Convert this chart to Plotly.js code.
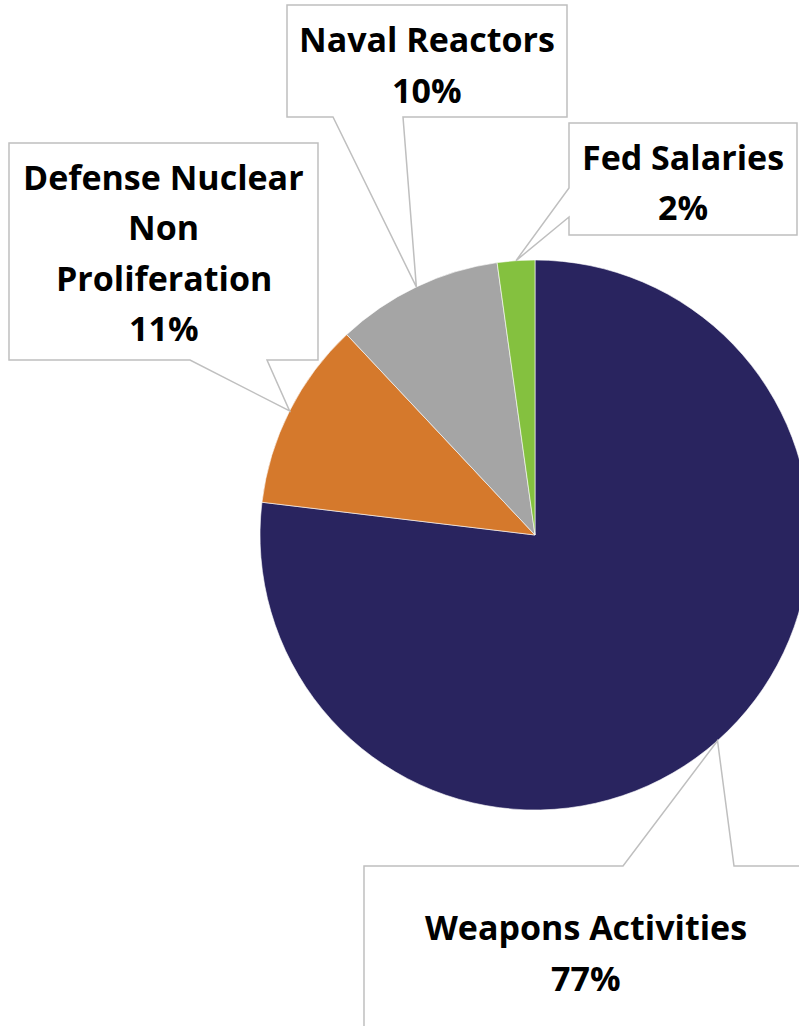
<!DOCTYPE html>
<html>
<head>
<meta charset="utf-8">
<script src="https://cdn.plot.ly/plotly-3.0.1.min.js"></script>
<style>
html,body{margin:0;padding:0;overflow:hidden;background:#fff;}
#chart{width:840px;height:1026px;}
</style>
</head>
<body>
<div id="chart"></div>
<script>
// ---- data ----
const categories = ['Weapons Activities', 'Defense Nuclear Non Proliferation', 'Naval Reactors', 'Fed Salaries'];
const labelText = ['Weapons Activities', 'Defense Nuclear<br>Non<br>Proliferation', 'Naval Reactors', 'Fed Salaries'];
const values = [76.9, 11.1, 9.8, 2.2];
const colors = ['#29245F', '#D5792C', '#A5A5A5', '#84C13F'];

// ---- layout geometry (pixels) ----
const W = 840, H = 1026;
const CX = 535, CY = 535, R = 275;
const boxes = [
  {x0: 364, y0: 866, x1: 860, y1: 1060, side: 'top',    n: [623, 734], cx: 586,   ty: 925},
  {x0: 9,   y0: 143, x1: 318, y1: 360,  side: 'bottom', n: [190, 267], cx: 163.5, ty: 174.5},
  {x0: 287, y0: 5,   x1: 567, y1: 117,  side: 'bottom', n: [333, 403], cx: 427,   ty: 37.5},
  {x0: 569, y0: 123, x1: 797, y1: 235,  side: 'left',   n: [188, 217], cx: 683,   ty: 154.5}
];
const LINE = 50.5;

const px = x => x / W;
const py = y => 1 - y / H;
const P = (x, y) => px(x).toFixed(5) + ',' + py(y).toFixed(5);

const total = values.reduce((a, b) => a + b, 0);
let cum = 0;
const shapes = [];
const annotations = [];
values.forEach((v, i) => {
  const mid = (cum + v / 2) / total * 2 * Math.PI;
  cum += v;
  const ax = CX + R * Math.sin(mid), ay = CY - R * Math.cos(mid);
  const b = boxes[i];
  let path;
  if (b.side === 'bottom') {
    path = 'M' + P(b.x0, b.y0) + ' L' + P(b.x1, b.y0) + ' L' + P(b.x1, b.y1) +
      ' L' + P(b.n[1], b.y1) + ' L' + P(ax, ay) + ' L' + P(b.n[0], b.y1) + ' L' + P(b.x0, b.y1) + ' Z';
  } else if (b.side === 'top') {
    path = 'M' + P(b.x0, b.y0) + ' L' + P(b.n[0], b.y0) + ' L' + P(ax, ay) + ' L' + P(b.n[1], b.y0) +
      ' L' + P(b.x1, b.y0) + ' L' + P(b.x1, b.y1) + ' L' + P(b.x0, b.y1) + ' Z';
  } else {
    path = 'M' + P(b.x0, b.y0) + ' L' + P(b.x1, b.y0) + ' L' + P(b.x1, b.y1) + ' L' + P(b.x0, b.y1) +
      ' L' + P(b.x0, b.n[1]) + ' L' + P(ax, ay) + ' L' + P(b.x0, b.n[0]) + ' Z';
  }
  shapes.push({type: 'path', xref: 'paper', yref: 'paper', path: path,
    fillcolor: '#FFFFFF', line: {color: '#BFBFBF', width: 1.5}, layer: 'above'});
  const lines = labelText[i].split('<br>').concat([Math.round(v / total * 100) + '%']);
  lines.forEach((t, k) => {
    annotations.push({xref: 'paper', yref: 'paper', x: px(b.cx), y: py(b.ty + k * LINE + 2),
      xanchor: 'center', yanchor: 'middle', showarrow: false, text: t,
      font: {family: 'Open Sans, sans-serif', size: 34, color: '#000000', weight: 700}});
  });
});

const trace = {
  type: 'pie',
  labels: categories,
  values: values,
  sort: false,
  direction: 'clockwise',
  rotation: 0,
  textinfo: 'none',
  hoverinfo: 'none',
  showlegend: false,
  marker: {colors: colors, line: {color: '#FFFFFF', width: 0.6}},
  domain: {x: [px(CX - R), px(CX + R)], y: [py(CY + R), py(CY - R)]}
};

Plotly.newPlot('chart', [trace], {
  width: W, height: H,
  margin: {l: 0, r: 0, t: 0, b: 0},
  paper_bgcolor: '#FFFFFF',
  showlegend: false,
  shapes: shapes,
  annotations: annotations
}, {displayModeBar: false, staticPlot: true});
</script>
</body>
</html>
